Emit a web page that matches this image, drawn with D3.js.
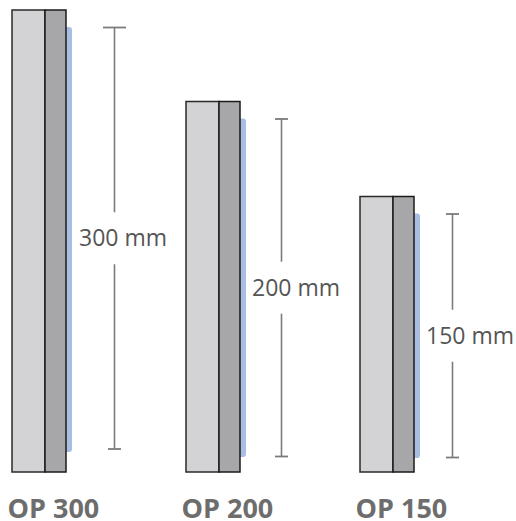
<!DOCTYPE html>
<html>
<head>
<meta charset="utf-8">
<script src="https://cdn.jsdelivr.net/npm/d3@7"></script>
<style>
  html, body { margin: 0; padding: 0; background: #fff; }
  svg { display: block; }
</style>
</head>
<body>
<svg id="chart" width="516" height="521"></svg>
<script>
// ---- data ----
const models = ["OP 300", "OP 200", "OP 150"];
const heights = [300, 200, 150];           // mm
const dimLabels = ["300 mm", "200 mm", "150 mm"];

// ---- layout ----
const W = 516, H = 521;
const svg = d3.select("#chart");

const x = d3.scalePoint().domain(models).range([12, 360]);
// visual (non-proportional) height scale
const yTop = d3.scaleLinear().domain([150, 200, 300]).range([196.5, 101.5, 10]);
const bottom = 472;
const lightW = 33, darkW = 21;

// per-panel layout tweaks (offsets)
const dimDx = [102.5, 95.5, 92.5];
const blueBottom = [452, 457, 458];
const dimBottom = [449, 456.5, 457.5];
const textX = [79, 252, 426];
const topCapW = [23, 13, 13];

const data = models.map((m, i) => ({ m, v: heights[i], label: dimLabels[i], i }));

const g = svg.selectAll("g.panel").data(data).join("g").attr("class", "panel");

// blue strip (behind)
g.append("rect")
  .attr("x", d => x(d.m) + lightW + darkW - 4)
  .attr("y", d => yTop(d.v) + 17)
  .attr("width", 10)
  .attr("height", d => blueBottom[d.i] - (yTop(d.v) + 17))
  .attr("rx", 3)
  .attr("fill", "#a9bde2");

// light part
g.append("rect")
  .attr("x", d => x(d.m))
  .attr("y", d => yTop(d.v))
  .attr("width", lightW)
  .attr("height", d => bottom - yTop(d.v))
  .attr("fill", "#d3d3d5")
  .attr("stroke", "#2a2a2a")
  .attr("stroke-width", 1.5);

// dark part
g.append("rect")
  .attr("x", d => x(d.m) + lightW)
  .attr("y", d => yTop(d.v))
  .attr("width", darkW)
  .attr("height", d => bottom - yTop(d.v))
  .attr("fill", "#a7a7a9")
  .attr("stroke", "#1a1a1a")
  .attr("stroke-width", 1.5);

// dimension lines
const dimColor = "#7b7b7b";
g.each(function(d) {
  const sel = d3.select(this);
  const lx = x(d.m) + dimDx[d.i];
  const top = yTop(d.v) + 17.5;
  const bot = dimBottom[d.i];
  const mid = (top + bot) / 2;
  const gap = 26;
  sel.append("line").attr("x1", lx).attr("x2", lx).attr("y1", top).attr("y2", mid - gap)
    .attr("stroke", dimColor).attr("stroke-width", 1.6);
  sel.append("line").attr("x1", lx).attr("x2", lx).attr("y1", mid + gap).attr("y2", bot)
    .attr("stroke", dimColor).attr("stroke-width", 1.6);
  sel.append("line").attr("x1", lx - topCapW[d.i] / 2).attr("x2", lx + topCapW[d.i] / 2)
    .attr("y1", top).attr("y2", top).attr("stroke", dimColor).attr("stroke-width", 1.8);
  sel.append("line").attr("x1", lx - 6.5).attr("x2", lx + 6.5)
    .attr("y1", bot).attr("y2", bot).attr("stroke", dimColor).attr("stroke-width", 1.8);
  sel.append("text")
    .attr("x", textX[d.i])
    .attr("y", mid)
    .attr("dy", "0.35em")
    .attr("font-family", "'Open Sans', sans-serif")
    .attr("font-size", 23)
    .attr("fill", "#555555")
    .text(d.label);
});

// model labels
g.append("text")
  .attr("x", d => x(d.m) - 4.5)
  .attr("y", 518)
  .attr("font-family", "'Open Sans', sans-serif")
  .attr("font-weight", "bold")
  .attr("font-size", 27)
  .attr("fill", "#6d6d6d")
  .text(d => d.m);
</script>
</body>
</html>
